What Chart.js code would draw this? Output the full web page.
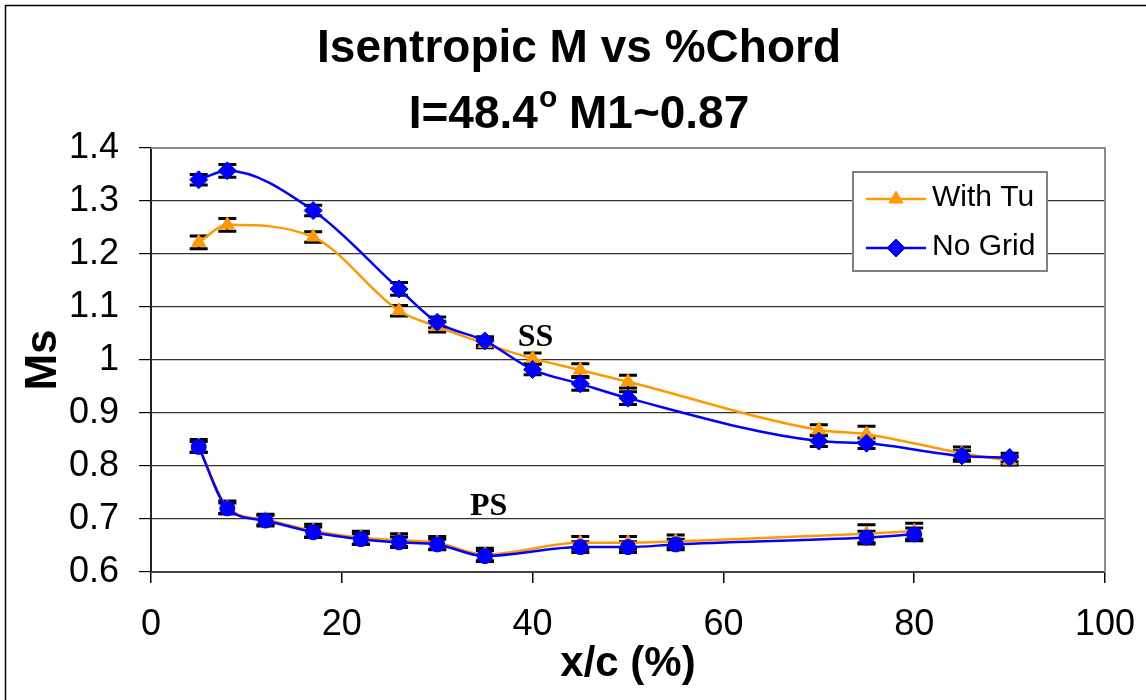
<!DOCTYPE html>
<html lang="en">
<head>
<meta charset="UTF-8">
<title>Isentropic M vs %Chord</title>
<script src="https://cdn.jsdelivr.net/npm/chart.js"></script>
<style>
  html, body { margin: 0; padding: 0; background: #fff; }
  #wrap { width: 1146px; height: 700px; }
</style>
</head>
<body>
<div id="wrap"><canvas id="msChart" width="1146" height="700"></canvas></div>
<script>
// chordwise stations (%)
const ssX = [5, 8, 17, 26, 30, 35, 40, 45, 50, 70, 75, 85, 90];
const psX = [5, 8, 12, 17, 22, 26, 30, 35, 45, 50, 55, 75, 80];

// suction side Ms
const tuSS   = [1.222, 1.255, 1.232, 1.093, 1.063, 1.031, 1.003, 0.981, 0.959, 0.868, 0.860, 0.824, 0.810];
const gridSS = [1.340, 1.357, 1.282, 1.134, 1.071, 1.036, 0.982, 0.955, 0.928, 0.847, 0.843, 0.819, 0.816];
// pressure side Ms
const tuPS   = [0.838, 0.722, 0.699, 0.678, 0.665, 0.660, 0.655, 0.633, 0.655, 0.655, 0.658, 0.672, 0.677];
const gridPS = [0.836, 0.720, 0.697, 0.675, 0.662, 0.656, 0.652, 0.630, 0.647, 0.647, 0.652, 0.665, 0.671];

// uncertainty (+/-)
const tuSSErr   = [0.012, 0.012, 0.010, 0.010, 0.010, 0.008, 0.010, 0.012, 0.012, 0.010, 0.015, 0.012, 0.008];
const gridSSErr = [0.010, 0.012, 0.010, 0.012, 0.010, 0.008, 0.010, 0.012, 0.012, 0.010, 0.010, 0.010, 0.008];
const tuPSErr   = [0.012, 0.012, 0.010, 0.012, 0.012, 0.012, 0.012, 0.012, 0.012, 0.012, 0.012, 0.017, 0.015];
const gridPSErr = [0.010, 0.010, 0.010, 0.010, 0.010, 0.010, 0.010, 0.010, 0.010, 0.010, 0.010, 0.012, 0.012];

const yTicks = [0.6, 0.7, 0.8, 0.9, 1, 1.1, 1.2, 1.3, 1.4];
const xTicks = [0, 20, 40, 60, 80, 100];
const seriesNames = ['With Tu', 'No Grid'];

const TU_COLOR = '#FF9900';
const GRID_COLOR = '#0000FF';
const SANS = '"Liberation Sans", Arial, sans-serif';

function pts(xs, ys) {
    return xs.map((x, i) => ({ x: x, y: ys[i] }));
}

function series(label, xs, ys, err, color, style, radius) {
    return {
        label: label,
        data: pts(xs, ys),
        errors: err,
        borderColor: color,
        backgroundColor: color,
        borderWidth: 2.5,
        cubicInterpolationMode: 'monotone',
        pointStyle: style,
        pointRadius: radius,
        pointBorderWidth: 1,
        pointBorderColor: color,
        pointBackgroundColor: color
    };
}

// blue drawn on top, so it goes first
const datasets = [
    series('No Grid', ssX, gridSS, gridSSErr, GRID_COLOR, 'rectRot', 9),
    series('No Grid PS', psX, gridPS, gridPSErr, GRID_COLOR, 'circle', 7.5),
    series('With Tu', ssX, tuSS, tuSSErr, TU_COLOR, 'triangle', 8),
    series('With Tu PS', psX, tuPS, tuPSErr, TU_COLOR, 'triangle', 8)
];

// white page with a frame line
const frame = {
    id: 'frame',
    beforeDraw(chart) {
        const ctx = chart.ctx;
        ctx.save();
        ctx.fillStyle = '#fff';
        ctx.fillRect(0, 0, chart.width, chart.height);
        ctx.strokeStyle = '#000';
        ctx.lineWidth = 1.5;
        ctx.strokeRect(5.5, 5.5, chart.width + 20, chart.height + 20);
        ctx.restore();
    }
};

// top / right edges of the plot area
const plotEdges = {
    id: 'plotEdges',
    beforeDatasetsDraw(chart) {
        const { ctx, chartArea: a } = chart;
        ctx.save();
        ctx.strokeStyle = '#8c8c8c';
        ctx.lineWidth = 2;
        ctx.beginPath();
        ctx.moveTo(a.left, a.top);
        ctx.lineTo(a.right, a.top);
        ctx.lineTo(a.right, a.bottom);
        ctx.stroke();
        ctx.restore();
    }
};

// black error bars with caps
const errorBars = {
    id: 'errorBars',
    beforeDatasetsDraw(chart) {
        const ctx = chart.ctx;
        const xs = chart.scales.x, ys = chart.scales.y;
        ctx.save();
        ctx.strokeStyle = '#000';
        chart.data.datasets.forEach((ds) => {
            ds.data.forEach((p, i) => {
                const e = ds.errors[i];
                const px = xs.getPixelForValue(p.x);
                const top = ys.getPixelForValue(p.y + e);
                const bot = ys.getPixelForValue(p.y - e);
                ctx.lineWidth = 2;
                ctx.beginPath();
                ctx.moveTo(px, top);
                ctx.lineTo(px, bot);
                ctx.stroke();
                ctx.lineWidth = 3;
                ctx.beginPath();
                ctx.moveTo(px - 9, top);
                ctx.lineTo(px + 9, top);
                ctx.moveTo(px - 9, bot);
                ctx.lineTo(px + 9, bot);
                ctx.stroke();
            });
        });
        ctx.restore();
    }
};

// "SS" / "PS" side tags placed in data units
const sideTags = [
    { text: 'SS', x: 40.3, y: 1.042 },
    { text: 'PS', x: 35.4, y: 0.724 }
];
const tags = {
    id: 'tags',
    afterDatasetsDraw(chart) {
        const ctx = chart.ctx;
        ctx.save();
        ctx.fillStyle = '#000';
        ctx.font = 'bold 32px "Liberation Serif", "Times New Roman", serif';
        ctx.textAlign = 'center';
        ctx.textBaseline = 'middle';
        sideTags.forEach(t => {
            ctx.fillText(t.text, chart.scales.x.getPixelForValue(t.x), chart.scales.y.getPixelForValue(t.y));
        });
        ctx.restore();
    }
};

// two-line heading, with a raised "o" after the angle
const heading = {
    id: 'heading',
    afterDraw(chart) {
        const ctx = chart.ctx;
        const cx = 579;
        ctx.save();
        ctx.fillStyle = '#000';
        ctx.textBaseline = 'alphabetic';
        ctx.font = 'bold 46px ' + SANS;
        ctx.textAlign = 'center';
        ctx.fillText('Isentropic M vs %Chord', cx, 62);

        const a = 'I=48.4', b = 'o', c = ' M1~0.87';
        const big = 'bold 46px ' + SANS, small = 'bold 30px ' + SANS;
        ctx.font = big;
        const wa = ctx.measureText(a).width, wc = ctx.measureText(c).width;
        ctx.font = small;
        const wb = ctx.measureText(b).width;
        let x = cx - (wa + wb + wc) / 2;
        ctx.textAlign = 'left';
        ctx.font = big;
        ctx.fillText(a, x, 128);
        x += wa;
        ctx.font = small;
        ctx.fillText(b, x + 1, 107);
        x += wb;
        ctx.font = big;
        ctx.fillText(c, x, 128);
        ctx.restore();
    }
};

// boxed legend with line + marker samples
const legendBox = {
    id: 'legendBox',
    afterDraw(chart) {
        const ctx = chart.ctx;
        const entries = [
            { name: seriesNames[0], color: TU_COLOR, style: 'triangle', r: 8, y: 199 },
            { name: seriesNames[1], color: GRID_COLOR, style: 'rectRot', r: 9, y: 248 }
        ];
        ctx.save();
        ctx.fillStyle = '#fff';
        ctx.fillRect(853, 172, 194, 99);
        ctx.strokeStyle = '#808080';
        ctx.lineWidth = 2;
        ctx.strokeRect(853, 172, 194, 99);
        entries.forEach(en => {
            ctx.strokeStyle = en.color;
            ctx.lineWidth = 2.5;
            ctx.beginPath();
            ctx.moveTo(866, en.y);
            ctx.lineTo(926, en.y);
            ctx.stroke();
            ctx.fillStyle = en.color;
            ctx.lineWidth = 1;
            Chart.helpers.drawPoint(ctx, { pointStyle: en.style, radius: en.r, rotation: 0, borderWidth: 1 }, 896, en.y);
            ctx.fillStyle = '#000';
            ctx.font = '30px ' + SANS;
            ctx.textAlign = 'left';
            ctx.textBaseline = 'middle';
            ctx.fillText(en.name, 932, en.y - 1);
        });
        ctx.restore();
    }
};

Chart.defaults.font.family = SANS;
Chart.defaults.color = '#000';

new Chart(document.getElementById('msChart'), {
    type: 'line',
    data: { datasets: datasets },
    plugins: [frame, plotEdges, errorBars, tags, heading, legendBox],
    options: {
        responsive: false,
        animation: false,
        devicePixelRatio: 1,
        layout: { padding: { top: 148, right: 41, left: 0, bottom: 0 } },
        plugins: {
            legend: { display: false },
            title: { display: false },
            tooltip: { enabled: false }
        },
        scales: {
            x: {
                type: 'linear',
                min: 0,
                max: 100,
                afterBuildTicks: s => { s.ticks = xTicks.map(v => ({ value: v })); },
                afterFit: s => { s.height = 128; s.paddingRight = 0; s.paddingLeft = 0; },
                border: { color: '#444', width: 2 },
                grid: { drawOnChartArea: false, tickLength: 11, tickColor: '#000', lineWidth: 1.5 },
                ticks: { font: { size: 36 }, color: '#000', padding: 20, maxRotation: 0, callback: v => String(v) },
                title: { display: true, text: 'x/c (%)', font: { size: 42, weight: 'bold' }, color: '#000', padding: { bottom: 10 } }
            },
            y: {
                min: 0.6,
                max: 1.4,
                afterBuildTicks: s => { s.ticks = yTicks.map(v => ({ value: v })); },
                afterFit: s => { s.width = 151; s.paddingTop = 0; s.paddingBottom = 0; },
                border: { color: '#222', width: 2 },
                grid: {
                    color: c => (c.tick && c.tick.value === 1.4) ? '#8c8c8c' : '#333',
                    lineWidth: 1.2,
                    tickLength: 12,
                    tickColor: '#000'
                },
                ticks: { font: { size: 36 }, color: '#000', padding: 20, callback: v => String(v) },
                title: { display: true, text: 'Ms', font: { size: 44, weight: 'bold' }, color: '#000', padding: { top: 17 } }
            }
        }
    }
});
</script>
</body>
</html>
